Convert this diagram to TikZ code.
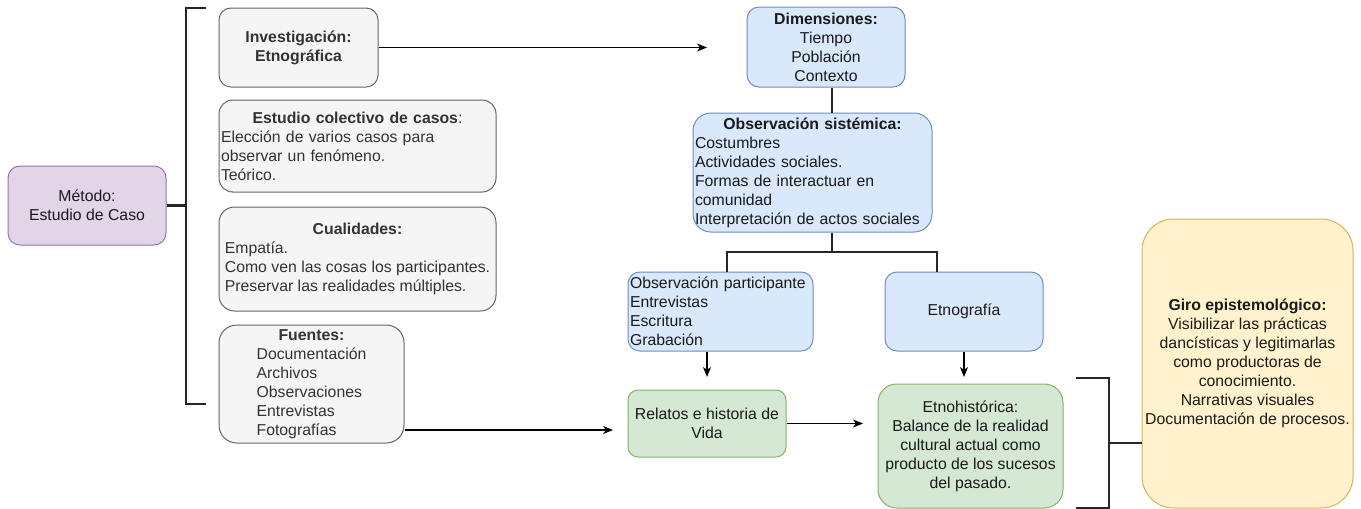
\documentclass[tikz,border=0pt]{standalone}
\usepackage{fontspec}
\setmainfont{Liberation Sans}
\usetikzlibrary{arrows.meta,calc}
\definecolor{gfill}{HTML}{F5F5F5}
\definecolor{gline}{HTML}{666666}
\definecolor{gtext}{HTML}{333333}
\definecolor{pfill}{HTML}{E1D5E7}
\definecolor{pline}{HTML}{9673A6}
\definecolor{bfill}{HTML}{DAE8FC}
\definecolor{bline}{HTML}{6C8EBF}
\definecolor{nfill}{HTML}{D5E8D4}
\definecolor{nline}{HTML}{82B366}
\definecolor{yfill}{HTML}{FFF2CC}
\definecolor{yline}{HTML}{D6B656}
\definecolor{ink}{HTML}{1A1A1A}
\begin{document}
\begin{tikzpicture}[x=1pt,y=-1pt,
  basebox/.style={draw, line width=1pt, inner xsep=2pt, inner ysep=0pt,
    font=\fontsize{15.8}{19}\selectfont, text=ink},
  graybox/.style={basebox, fill=gfill, draw=gline, text=gtext},
  purplebox/.style={basebox, fill=pfill, draw=pline},
  bluebox/.style={basebox, fill=bfill, draw=bline},
  greenbox/.style={basebox, fill=nfill, draw=nline},
  yellowbox/.style={basebox, fill=yfill, draw=yline},
  arr/.style={line width=1.3pt, draw=black, -{Stealth[length=10pt,width=8pt,inset=3pt]}},
  brk/.style={line width=2.2pt, draw=black!85},
]
\useasboundingbox (0,0) rectangle (1361,509);

% left column
\node[purplebox, rounded corners=11.9pt, minimum width=158pt, minimum height=79pt, align=center]
  (met) at (87,205.5) {Método:\\Estudio de Caso};

\node[graybox, rounded corners=11.9pt, minimum width=159pt, minimum height=79pt, align=center,
  font=\fontsize{15.8}{19}\selectfont\bfseries]
  (inv) at (298.5,47.5) {Investigación:\\Etnográfica};

\node[graybox, rounded corners=13.8pt, minimum width=277pt, minimum height=92pt, text width=273pt, align=left]
  (est) at (357.5,146) {{\centering\textbf{Estudio colectivo de casos}:\par}Elección de varios casos para\\observar un fenómeno.\\Teórico.};

\node[graybox, rounded corners=15.6pt, minimum width=277pt, minimum height=104pt]
  (cua) at (357.5,259) {\begin{tabular}{@{}l@{}}\multicolumn{1}{@{}c@{}}{\textbf{Cualidades:}}\\
    Empatía.\\Como ven las cosas los participantes.\\Preservar las realidades múltiples.\end{tabular}};

\node[graybox, rounded corners=17.7pt, minimum width=185pt, minimum height=118pt]
  (fue) at (311.5,384) {\begin{tabular}{@{}l@{}}\multicolumn{1}{@{}c@{}}{\textbf{Fuentes:}}\\
    Documentación\\Archivos\\Observaciones\\Entrevistas\\Fotografías\end{tabular}};

% middle column
\node[bluebox, rounded corners=12pt, minimum width=158pt, minimum height=80pt, align=center]
  (dim) at (826,47) {\textbf{Dimensiones:}\\Tiempo\\Población\\Contexto};

\node[bluebox, rounded corners=17.9pt, minimum width=239pt, minimum height=119pt, text width=235pt, align=left]
  (obs) at (812.5,172.5) {{\centering\textbf{Observación sistémica:}\par}Costumbres\\Actividades sociales.\\Formas de interactuar en\\comunidad\\Interpretación de actos sociales};

\node[bluebox, rounded corners=11.9pt, minimum width=185pt, minimum height=79pt, text width=181pt, align=left]
  (op) at (720.5,311.5) {Observación participante\\Entrevistas\\Escritura\\Grabación};

\node[bluebox, rounded corners=11.9pt, minimum width=158pt, minimum height=79pt, align=center]
  (eg) at (964,311.5) {Etnografía};

\node[greenbox, rounded corners=10pt, minimum width=158pt, minimum height=67pt, align=center]
  (rel) at (707,423.5) {Relatos e historia de\\Vida};

\node[greenbox, rounded corners=18.6pt, minimum width=185pt, minimum height=124pt, align=center]
  (eh) at (970.5,446) {Etnohistórica:\\Balance de la realidad\\cultural actual como\\producto de los sucesos\\del pasado.};

\node[yellowbox, rounded corners=31.7pt, minimum width=211pt, minimum height=289pt, inner xsep=0pt, align=center]
  (giro) at (1247.5,363.5) {\textbf{Giro epistemológico:}\\Visibilizar las prácticas\\dancísticas y legitimarlas\\como productoras de\\conocimiento.\\Narrativas visuales\\Documentación de procesos.};

% left bracket
\coordinate (lb1) at (206,8);
\coordinate (lb2) at (186,8);
\coordinate (lb3) at (186,404);
\coordinate (lb4) at (206,404);
\draw[brk] (lb1) -- (lb2) -- (lb3) -- (lb4);
\draw[brk] (met.east) -- (met.east -| lb2);

% arrows
\coordinate (a1) at (707,47.5);
\draw[arr] (inv.east) -- (a1);
\coordinate (a2) at (613,430);
\draw[arr] (fue.east |- a2) -- (a2);
\coordinate (a3) at (707,377);
\draw[arr] (op.south -| a3) -- (a3);
\coordinate (a4) at (964,377);
\draw[arr] (eg.south) -- (a4);
\coordinate (a5) at (863,423.5);
\draw[arr] (rel.east) -- (a5);

% tree
\coordinate (tx) at (832,0);
\coordinate (tj) at (832,252);
\coordinate (tl) at (727,0);
\coordinate (tr) at (937,0);
\draw[brk] (dim.south -| tx) -- (obs.north -| tx);
\draw[brk] (obs.south -| tx) -- (tj);
\draw[brk] (op.north -| tl) |- (tj) -| (eg.north -| tr);

% right bracket
\coordinate (rb1) at (1076,378);
\coordinate (rb2) at (1109,378);
\coordinate (rb3) at (1109,508);
\coordinate (rb4) at (1076,508);
\coordinate (rm) at (1109,443);
\draw[brk] (rb1) -- (rb2) -- (rb3) -- (rb4);
\draw[brk] (rm) -- (giro.west |- rm);
\end{tikzpicture}
\end{document}
